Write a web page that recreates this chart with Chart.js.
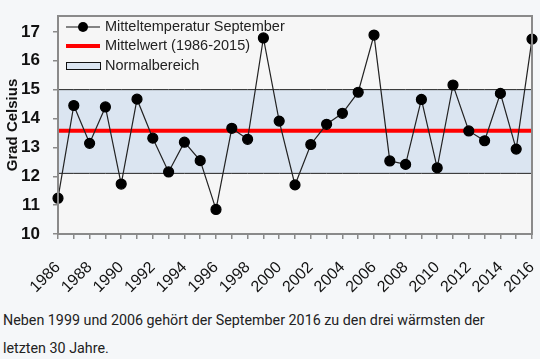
<!DOCTYPE html>
<html>
<head>
<meta charset="utf-8">
<script src="https://cdn.jsdelivr.net/npm/chart.js@4"></script>
<style>
  body { margin: 0; background: #f5f7f9; width: 540px; height: 359px; overflow: hidden; position: relative; }
  #wrap { position: absolute; left: 0; top: 0; width: 540px; height: 300px; }
  #caption { position: absolute; left: 3px; top: 306px; font-family: Roboto, sans-serif; font-size: 14.3px; line-height: 28px; color: #222; }
</style>
</head>
<body>
<div id="wrap"><canvas id="tempChart" width="540" height="300"></canvas></div>
<div id="caption">Neben 1999 und 2006 gehört der September 2016 zu den drei wärmsten der<br>letzten 30 Jahre.</div>
<script>
// Daten
const jahre = [1986, 1987, 1988, 1989, 1990, 1991, 1992, 1993, 1994, 1995, 1996,
               1997, 1998, 1999, 2000, 2001, 2002, 2003, 2004, 2005, 2006,
               2007, 2008, 2009, 2010, 2011, 2012, 2013, 2014, 2015, 2016];
const temperaturen = [11.24, 14.45, 13.14, 14.40, 11.73, 14.67, 13.32, 12.15, 13.18, 12.54, 10.85,
                      13.66, 13.28, 16.79, 13.91, 11.70, 13.10, 13.80, 14.18, 14.91, 16.89,
                      12.53, 12.41, 14.66, 12.29, 15.16, 13.57, 13.23, 14.87, 12.94, 16.75];
const mittelwert = 13.58;
const normalUnten = 12.1;
const normalOben = 15.0;
const yTicks = [10, 11, 12, 13, 14, 15, 16, 17];

const achsenFarbe = '#8a8a8a';

// Hintergrund, Rahmen und Legende
const rahmenPlugin = {
    id: 'rahmen',
    beforeDraw(chart) {
        const a = chart.chartArea, ctx = chart.ctx;
        ctx.save();
        ctx.fillStyle = '#f6f6f6';
        ctx.fillRect(a.left, a.top, a.right - a.left, a.bottom - a.top);
        ctx.restore();
    },
    afterDatasetsDraw(chart) {
        const a = chart.chartArea, ctx = chart.ctx;
        ctx.save();
        ctx.strokeStyle = achsenFarbe;
        ctx.lineWidth = 2;
        ctx.strokeRect(a.left, a.top, a.right - a.left, a.bottom - a.top);
        ctx.restore();
    },
    afterDraw(chart) {
        const ctx = chart.ctx;
        const x0 = 66, x1 = 100, tx = 105;
        const rows = [27, 46, 66];
        ctx.save();
        ctx.font = '14.5px Arial';
        ctx.textBaseline = 'middle';

        ctx.strokeStyle = '#111';
        ctx.lineWidth = 1.2;
        ctx.beginPath(); ctx.moveTo(x0, rows[0]); ctx.lineTo(x1, rows[0]); ctx.stroke();
        ctx.fillStyle = '#000';
        ctx.beginPath(); ctx.arc((x0 + x1) / 2, rows[0], 5, 0, Math.PI * 2); ctx.fill();

        ctx.strokeStyle = '#ff0000';
        ctx.lineWidth = 4;
        ctx.beginPath(); ctx.moveTo(x0, rows[1]); ctx.lineTo(x1, rows[1]); ctx.stroke();

        ctx.fillStyle = '#dbe5f1';
        ctx.fillRect(x0, rows[2] - 3, x1 - x0, 6);
        ctx.strokeStyle = '#111';
        ctx.lineWidth = 1;
        ctx.strokeRect(x0 + 0.5, rows[2] - 3.5, x1 - x0, 7);

        ctx.fillStyle = '#222';
        chart.data.datasets.filter(d => d.legendRow !== undefined).forEach(d => {
            ctx.fillText(d.label, tx, rows[d.legendRow]);
        });
        ctx.restore();
    }
};

const ctx = document.getElementById('tempChart').getContext('2d');
new Chart(ctx, {
    type: 'line',
    data: {
        labels: jahre,
        datasets: [
            {
                label: 'Mitteltemperatur September',
                legendRow: 0,
                data: temperaturen,
                borderColor: '#222',
                borderWidth: 1.2,
                pointRadius: 5,
                pointBackgroundColor: '#000',
                pointBorderColor: '#000',
                tension: 0,
                clip: false,
                order: 0
            },
            {
                label: 'Mittelwert (1986-2015)',
                legendRow: 1,
                data: jahre.map(() => mittelwert),
                borderColor: '#ff0000',
                borderWidth: 4,
                pointRadius: 0,
                order: 1
            },
            {
                label: 'Normalbereich',
                legendRow: 2,
                data: jahre.map(() => normalOben),
                borderColor: '#222',
                borderWidth: 1,
                backgroundColor: '#dbe5f1',
                fill: { value: normalUnten },
                pointRadius: 0,
                order: 3
            },
            {
                label: 'Normal unten',
                data: jahre.map(() => normalUnten),
                borderColor: '#222',
                borderWidth: 1,
                pointRadius: 0,
                order: 2
            }
        ]
    },
    options: {
        responsive: false,
        animation: false,
        devicePixelRatio: 1,
        layout: {
            padding: { top: 16, right: 8, left: 0, bottom: 0 }
        },
        plugins: {
            legend: { display: false },
            tooltip: { enabled: false }
        },
        scales: {
            x: {
                offset: false,
                grid: {
                    display: true,
                    drawOnChartArea: false,
                    tickLength: 5,
                    color: achsenFarbe,
                    lineWidth: 1.5
                },
                border: { display: true, color: achsenFarbe, width: 2 },
                ticks: {
                    autoSkip: false,
                    minRotation: 45,
                    maxRotation: 45,
                    padding: 19,
                    color: '#111',
                    font: { family: 'Arial', size: 16 },
                    callback: function(value, index) {
                        return jahre[index] % 2 === 0 ? String(jahre[index]) : '';
                    }
                },
                afterFit: function(scale) {
                    scale.height = 66;
                    scale.paddingLeft = 0;
                    scale.paddingRight = 0;
                }
            },
            y: {
                min: 10,
                max: 17.55,
                afterBuildTicks: function(scale) {
                    scale.ticks = yTicks.map(v => ({ value: v }));
                },
                grid: {
                    display: true,
                    drawOnChartArea: false,
                    tickLength: 5,
                    color: achsenFarbe,
                    lineWidth: 1.5
                },
                border: { display: true, color: achsenFarbe, width: 2 },
                ticks: {
                    padding: 13,
                    color: '#111',
                    font: { family: 'Arial', size: 17, weight: 'bold' }
                },
                title: {
                    display: true,
                    text: 'Grad Celsius',
                    color: '#111',
                    font: { family: 'Arial', size: 15, weight: 'bold' },
                    padding: { top: 4, bottom: 4 }
                },
                afterFit: function(scale) {
                    scale.width = 58;
                    scale.paddingTop = 0;
                    scale.paddingBottom = 0;
                }
            }
        }
    },
    plugins: [rahmenPlugin]
});
</script>
</body>
</html>
